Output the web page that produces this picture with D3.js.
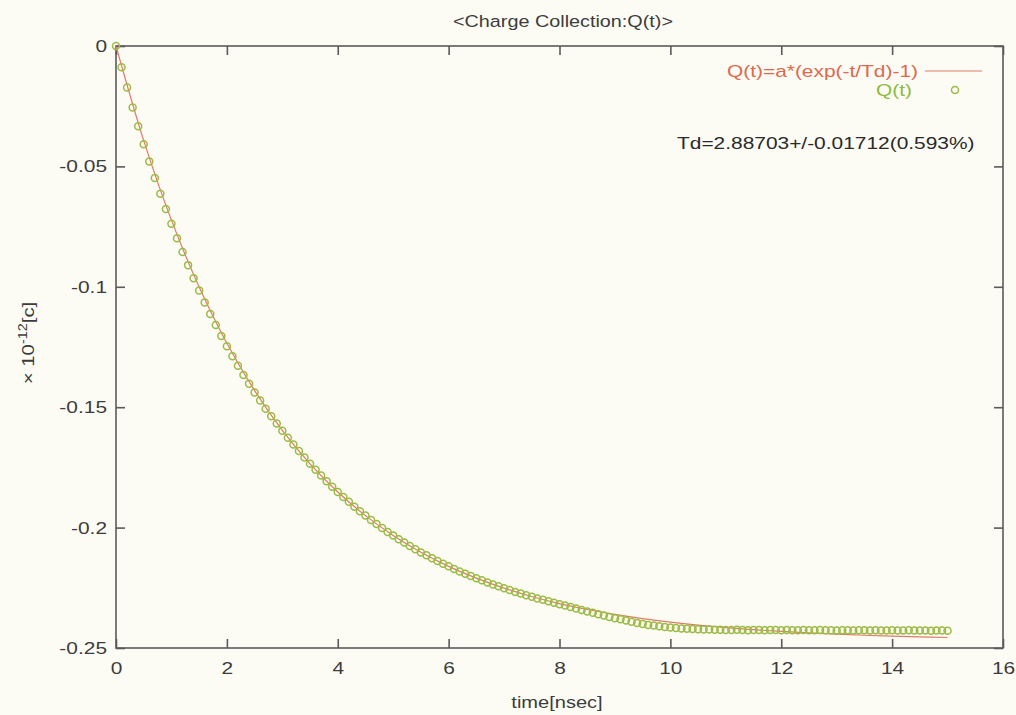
<!DOCTYPE html>
<html><head><meta charset="utf-8">
<script src="https://cdn.jsdelivr.net/npm/d3@7"></script>
<style>
html,body{margin:0;padding:0;background:#fcfcf5;}
svg{display:block;font-family:"Liberation Sans",Arial,sans-serif;}
</style></head>
<body><svg id="c" width="1016" height="715"></svg>
<script>
// ---- data ----
const times = [0,0.1,0.2,0.3,0.4,0.5,0.6,0.7,0.8,0.9,1.0,1.1,1.2,1.3,1.4,1.5,1.6,1.7,1.8,1.9,
2.0,2.1,2.2,2.3,2.4,2.5,2.6,2.7,2.8,2.9,3.0,3.1,3.2,3.3,3.4,3.5,3.6,3.7,3.8,3.9,
4.0,4.1,4.2,4.3,4.4,4.5,4.6,4.7,4.8,4.9,5.0,5.1,5.2,5.3,5.4,5.5,5.6,5.7,5.8,5.9,
6.0,6.1,6.2,6.3,6.4,6.5,6.6,6.7,6.8,6.9,7.0,7.1,7.2,7.3,7.4,7.5,7.6,7.7,7.8,7.9,
8.0,8.1,8.2,8.3,8.4,8.5,8.6,8.7,8.8,8.9,9.0,9.1,9.2,9.3,9.4,9.5,9.6,9.7,9.8,9.9,
10.0,10.1,10.2,10.3,10.4,10.5,10.6,10.7,10.8,10.9,11.0,11.1,11.2,11.3,11.4,11.5,11.6,11.7,11.8,11.9,
12.0,12.1,12.2,12.3,12.4,12.5,12.6,12.7,12.8,12.9,13.0,13.1,13.2,13.3,13.4,13.5,13.6,13.7,13.8,13.9,
14.0,14.1,14.2,14.3,14.4,14.5,14.6,14.7,14.8,14.9,15.0];
const charge = [0,-0.0088,-0.0172,-0.0255,-0.0333,-0.0408,-0.0480,-0.0548,-0.0614,-0.0677,
-0.0738,-0.0798,-0.0855,-0.0910,-0.0964,-0.1015,-0.1065,-0.1113,-0.1159,-0.1204,
-0.1247,-0.1288,-0.1328,-0.1366,-0.1403,-0.1439,-0.1472,-0.1506,-0.1538,-0.1568,
-0.1598,-0.1627,-0.1655,-0.1682,-0.1709,-0.1735,-0.1760,-0.1784,-0.1807,-0.1830,
-0.1852,-0.1873,-0.1893,-0.1913,-0.1932,-0.1950,-0.1968,-0.1985,-0.2002,-0.2018,
-0.2033,-0.2048,-0.2062,-0.2076,-0.2090,-0.2103,-0.2115,-0.2127,-0.2139,-0.2150,
-0.2161,-0.2172,-0.2182,-0.2192,-0.2201,-0.2210,-0.2219,-0.2228,-0.2236,-0.2244,
-0.2252,-0.2259,-0.2267,-0.2274,-0.2281,-0.2287,-0.2294,-0.2300,-0.2306,-0.2312,
-0.2318,-0.2324,-0.2330,-0.2336,-0.2342,-0.2348,-0.2354,-0.2360,-0.2365,-0.2371,
-0.2376,-0.2381,-0.2386,-0.2391,-0.2396,-0.2400,-0.2404,-0.2407,-0.2410,-0.2413,
-0.2415,-0.2417,-0.2419,-0.2420,-0.2421,-0.2422,-0.2423,-0.2423,-0.2424,-0.2424,
-0.2425,-0.2425,-0.2424,-0.2425,-0.2426,-0.2425,-0.2425,-0.2426,-0.2425,-0.2425,
-0.2426,-0.2425,-0.2426,-0.2426,-0.2425,-0.2426,-0.2426,-0.2425,-0.2426,-0.2426,
-0.2427,-0.2426,-0.2426,-0.2427,-0.2426,-0.2426,-0.2427,-0.2426,-0.2427,-0.2427,
-0.2426,-0.2427,-0.2427,-0.2426,-0.2427,-0.2427,-0.2427,-0.2428,-0.2427,-0.2427,-0.2428];
const fitTimes = [0,0.5,1,1.5,2,2.5,3,3.5,4,4.5,5,5.5,6,6.5,7,7.5,8,8.5,9,9.5,10,10.5,11,11.5,12,12.5,13,13.5,14,14.5,15];
const fitCharge = [0,-0.03928,-0.07231,-0.10009,-0.12345,-0.14310,-0.15962,-0.17352,-0.18520,-0.19503,
-0.20329,-0.21024,-0.21609,-0.22100,-0.22514,-0.22861,-0.23154,-0.23400,-0.23606,-0.23780,
-0.23927,-0.24050,-0.24153,-0.24240,-0.24313,-0.24375,-0.24426,-0.24470,-0.24507,-0.24537,-0.24563];
const xTicks = [0,2,4,6,8,10,12,14,16];
const yTicks = [0,-0.05,-0.1,-0.15,-0.2,-0.25];
const yTickLabels = ["0","-0.05","-0.1","-0.15","-0.2","-0.25"];
const titleText = "<Charge Collection:Q(t)>";
const fitLabel = "Q(t)=a*(exp(-t/Td)-1)";
const dataLabel = "Q(t)";
const fitResult = "Td=2.88703+/-0.01712(0.593%)";

// ---- layout ----
const L = 116, R = 1003, T = 46, B = 648;
const SX = 1.23, FS = 17;
const svg = d3.select("#c");
const x = d3.scaleLinear().domain([0,16]).range([L,R]);
const y = d3.scaleLinear().domain([-0.25,0]).range([B,T]);
const axisCol = "#5a5a5a", textCol = "#3c3c3c";
const redCol = "#e27a66", greenCol = "#9bbb45";

// wide text helper (scanned original is horizontally stretched)
function wtext(px, py, str, opts){
  const t = svg.append("text")
    .attr("transform",`translate(${px},${py}) scale(${opts.sx||SX},1)`)
    .attr("text-anchor",opts.anchor||"start")
    .attr("font-size",opts.size||FS).attr("fill",opts.fill||textCol).text(str);
  return t;
}

// frame
svg.append("rect").attr("x",L).attr("y",T).attr("width",R-L).attr("height",B-T)
  .attr("fill","none").attr("stroke",axisCol).attr("stroke-width",1.6);

// axes via d3 (inward ticks)
const fmtY = (d)=> yTickLabels[yTicks.findIndex(v=>Math.abs(v-d)<1e-9)];
const gx = svg.append("g").attr("transform",`translate(0,${B})`)
  .call(d3.axisBottom(x).tickValues(xTicks).tickSizeInner(-9).tickSizeOuter(0).tickPadding(21).tickFormat(d3.format("d")));
const gy = svg.append("g").attr("transform",`translate(${L},0)`)
  .call(d3.axisLeft(y).tickValues(yTicks).tickSizeInner(-9).tickSizeOuter(0).tickPadding(9).tickFormat(fmtY));
const gxt = svg.append("g").attr("transform",`translate(0,${T})`)
  .call(d3.axisTop(x).tickValues(xTicks).tickSizeInner(-9).tickSizeOuter(0).tickFormat(""));
const gyr = svg.append("g").attr("transform",`translate(${R},0)`)
  .call(d3.axisRight(y).tickValues(yTicks).tickSizeInner(-9).tickSizeOuter(0).tickFormat(""));
[gx,gy,gxt,gyr].forEach(g=>{
  g.select(".domain").remove();
  g.selectAll(".tick line").attr("stroke",axisCol).attr("stroke-width",1.6);
  g.selectAll(".tick text").attr("fill",textCol).attr("font-size",FS)
   .attr("font-family",'"Liberation Sans",Arial,sans-serif')
   .each(function(){
     const s = d3.select(this);
     const xx = +s.attr("x") || 0;
     s.attr("x", xx/SX).attr("transform",`scale(${SX},1)`);
   });
});
gx.selectAll(".tick text").attr("dy","0.3em");

// title
wtext(563, 27, titleText, {anchor:"middle", size:16.5, sx:1.2});
// x label
wtext(557, 708, "time[nsec]", {anchor:"middle", sx:1.18});
// y label
const yl = svg.append("text").attr("transform","translate(34,343) rotate(-90) scale(1.2,1)")
  .attr("text-anchor","middle").attr("font-size",FS).attr("fill",textCol);
yl.append("tspan").text("\u00d7 10");
yl.append("tspan").attr("dy",-7).attr("font-size",12).text("-12");
yl.append("tspan").attr("dy",7).text("[c]");

// fit line
const line = d3.line().x((d,i)=>x(fitTimes[i])).y(d=>y(d)).curve(d3.curveCatmullRom);
svg.append("path").attr("d",line(fitCharge)).attr("fill","none")
  .attr("stroke",redCol).attr("stroke-width",1.2);

// data points
svg.append("g").selectAll("circle").data(charge).join("circle")
  .attr("cx",(d,i)=>x(times[i])).attr("cy",d=>y(d)).attr("r",3.5)
  .attr("fill","none").attr("stroke",greenCol).attr("stroke-width",1.5);

// legend
wtext(918, 77, fitLabel, {anchor:"end", fill:"#e0684c"});
svg.append("line").attr("x1",925).attr("x2",982).attr("y1",71).attr("y2",71)
  .attr("stroke",redCol).attr("stroke-width",1.2);
wtext(912, 96, dataLabel, {anchor:"end", fill:"#8dbb3e"});
svg.append("circle").attr("cx",955).attr("cy",90).attr("r",3.5)
  .attr("fill","none").attr("stroke",greenCol).attr("stroke-width",1.5);
wtext(677, 149, fitResult, {fill:"#2a2a2a"});
</script></body></html>
